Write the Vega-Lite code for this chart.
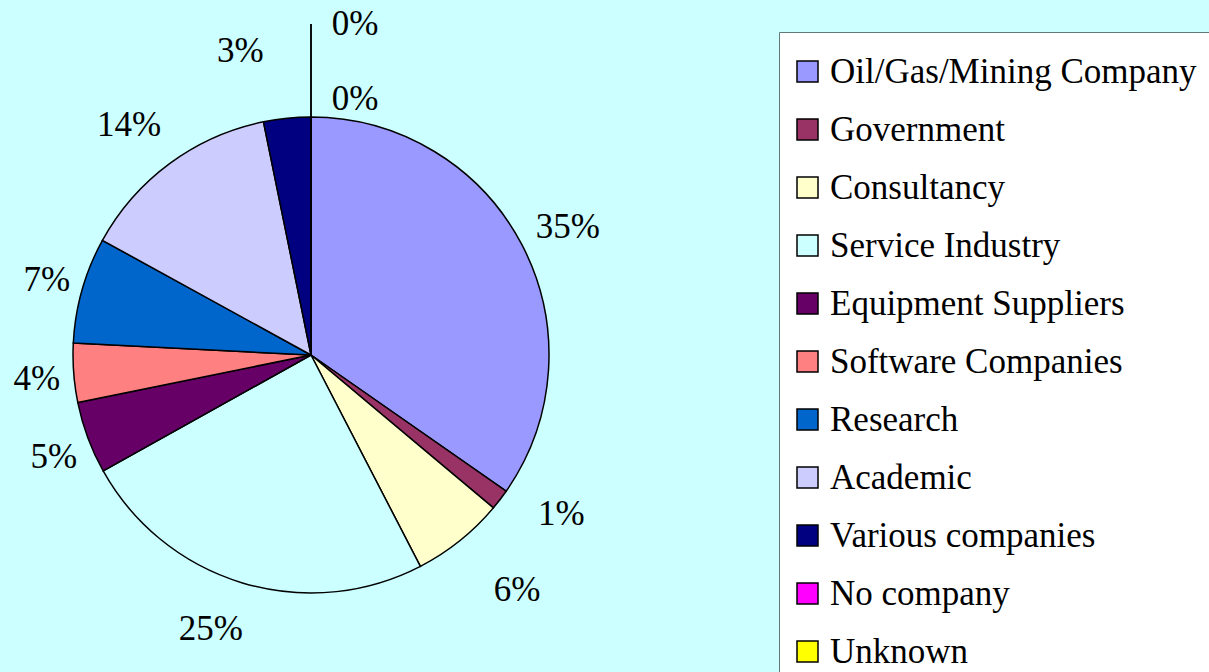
{
  "$schema": "https://vega.github.io/schema/vega-lite/v6.json",
  "width": 476,
  "height": 476,
  "autosize": {"type": "none"},
  "padding": {"left": 73, "top": 117, "right": 660, "bottom": 79},
  "background": "#CCFFFF",
  "config": {"view": {"stroke": null}, "font": "Liberation Serif"},
  "data": {
    "values": [
      {"idx": 1, "cat": "Oil/Gas/Mining Company", "value": 34.7, "label": "35%"},
      {"idx": 2, "cat": "Government", "value": 1.4, "label": "1%"},
      {"idx": 3, "cat": "Consultancy", "value": 6.3, "label": "6%"},
      {"idx": 4, "cat": "Service Industry", "value": 24.5, "label": "25%"},
      {"idx": 5, "cat": "Equipment Suppliers", "value": 4.9, "label": "5%"},
      {"idx": 6, "cat": "Software Companies", "value": 4.0, "label": "4%"},
      {"idx": 7, "cat": "Research", "value": 7.2, "label": "7%"},
      {"idx": 8, "cat": "Academic", "value": 13.8, "label": "14%"},
      {"idx": 9, "cat": "Various companies", "value": 3.2, "label": "3%"},
      {"idx": 10, "cat": "No company", "value": 0, "label": "0%"},
      {"idx": 11, "cat": "Unknown", "value": 0, "label": "0%"}
    ]
  },
  "layer": [
    {
      "mark": {"type": "arc", "radius": 238, "stroke": "black", "strokeWidth": 1.5},
      "encoding": {
        "theta": {"field": "value", "type": "quantitative", "stack": true},
        "order": {"field": "idx", "type": "quantitative"},
        "color": {
          "field": "cat",
          "type": "nominal",
          "sort": null,
          "scale": {
            "domain": ["Oil/Gas/Mining Company", "Government", "Consultancy", "Service Industry", "Equipment Suppliers", "Software Companies", "Research", "Academic", "Various companies", "No company", "Unknown"],
            "range": ["#9999FF", "#993366", "#FFFFCC", "#CCFFFF", "#660066", "#FF8080", "#0066CC", "#CCCCFF", "#000080", "#FF00FF", "#FFFF00"]
          },
          "legend": {
            "orient": "none",
            "legendX": 706,
            "legendY": -85,
            "title": null,
            "symbolType": "square",
            "symbolSize": 441,
            "symbolStrokeColor": "black",
            "symbolStrokeWidth": 1.5,
            "symbolOpacity": 1,
            "symbolOffset": -11,
            "labelFont": "Liberation Serif",
            "labelFontSize": 35,
            "labelColor": "black",
            "labelOffset": 5,
            "labelLimit": 0,
            "rowPadding": 22,
            "padding": 22,
            "strokeColor": "#5f7a7a",
            "fillColor": "white"
          }
        }
      }
    },
    {
      "mark": {"type": "arc", "radius": 331, "radius2": 238, "fillOpacity": 0, "stroke": "black", "strokeWidth": 1},
      "encoding": {
        "theta": {"field": "value", "type": "quantitative", "stack": true},
        "order": {"field": "idx", "type": "quantitative"},
        "detail": {"field": "cat"},
        "strokeOpacity": {"condition": {"test": "datum.value === 0", "value": 1}, "value": 0}
      }
    },
    {
      "mark": {"type": "text", "radius": 285, "dx": 4, "dy": 4, "fontSize": 35, "font": "Liberation Serif", "align": "center", "baseline": "middle", "color": "black"},
      "encoding": {
        "theta": {"field": "value", "type": "quantitative", "stack": true},
        "order": {"field": "idx", "type": "quantitative"},
        "detail": {"field": "cat"},
        "text": {"condition": {"test": "datum.cat === 'Oil/Gas/Mining Company'", "field": "label"}, "value": ""}
      }
    },
    {
      "mark": {"type": "text", "radius": 285, "dx": 10, "dy": 3, "fontSize": 35, "font": "Liberation Serif", "align": "center", "baseline": "middle", "color": "black"},
      "encoding": {
        "theta": {"field": "value", "type": "quantitative", "stack": true},
        "order": {"field": "idx", "type": "quantitative"},
        "detail": {"field": "cat"},
        "text": {"condition": {"test": "indexof(['Equipment Suppliers','Software Companies','Research'], datum.cat) >= 0", "field": "label"}, "value": ""}
      }
    },
    {
      "mark": {"type": "text", "radius": 285, "dx": -13, "dy": 0, "fontSize": 35, "font": "Liberation Serif", "align": "center", "baseline": "middle", "color": "black"},
      "encoding": {
        "theta": {"field": "value", "type": "quantitative", "stack": true},
        "order": {"field": "idx", "type": "quantitative"},
        "detail": {"field": "cat"},
        "text": {"condition": {"test": "datum.cat === 'Academic'", "field": "label"}, "value": ""}
      }
    },
    {
      "mark": {"type": "text", "radius": 285, "dx": 24, "dy": -14, "fontSize": 35, "font": "Liberation Serif", "align": "center", "baseline": "middle", "color": "black"},
      "encoding": {
        "theta": {"field": "value", "type": "quantitative", "stack": true},
        "order": {"field": "idx", "type": "quantitative"},
        "detail": {"field": "cat"},
        "text": {"condition": {"test": "datum.cat === 'Government'", "field": "label"}, "value": ""}
      }
    },
    {
      "mark": {"type": "text", "radius": 285, "dx": 28, "dy": 13, "fontSize": 35, "font": "Liberation Serif", "align": "center", "baseline": "middle", "color": "black"},
      "encoding": {
        "theta": {"field": "value", "type": "quantitative", "stack": true},
        "order": {"field": "idx", "type": "quantitative"},
        "detail": {"field": "cat"},
        "text": {"condition": {"test": "datum.cat === 'Consultancy'", "field": "label"}, "value": ""}
      }
    },
    {
      "mark": {"type": "text", "radius": 285, "dx": -18, "dy": 1, "fontSize": 35, "font": "Liberation Serif", "align": "center", "baseline": "middle", "color": "black"},
      "encoding": {
        "theta": {"field": "value", "type": "quantitative", "stack": true},
        "order": {"field": "idx", "type": "quantitative"},
        "detail": {"field": "cat"},
        "text": {"condition": {"test": "datum.cat === 'Service Industry'", "field": "label"}, "value": ""}
      }
    },
    {
      "mark": {"type": "text", "radius": 285, "dx": -42, "dy": -20, "fontSize": 35, "font": "Liberation Serif", "align": "center", "baseline": "middle", "color": "black"},
      "encoding": {
        "theta": {"field": "value", "type": "quantitative", "stack": true},
        "order": {"field": "idx", "type": "quantitative"},
        "detail": {"field": "cat"},
        "text": {"condition": {"test": "datum.cat === 'Various companies'", "field": "label"}, "value": ""}
      }
    },
    {
      "mark": {"type": "text", "radius": 285, "dx": 44, "dy": 29, "fontSize": 35, "font": "Liberation Serif", "align": "center", "baseline": "middle", "color": "black"},
      "encoding": {
        "theta": {"field": "value", "type": "quantitative", "stack": true},
        "order": {"field": "idx", "type": "quantitative"},
        "detail": {"field": "cat"},
        "text": {"condition": {"test": "datum.cat === 'No company'", "field": "label"}, "value": ""}
      }
    },
    {
      "mark": {"type": "text", "radius": 285, "dx": 44, "dy": -46, "fontSize": 35, "font": "Liberation Serif", "align": "center", "baseline": "middle", "color": "black"},
      "encoding": {
        "theta": {"field": "value", "type": "quantitative", "stack": true},
        "order": {"field": "idx", "type": "quantitative"},
        "detail": {"field": "cat"},
        "text": {"condition": {"test": "datum.cat === 'Unknown'", "field": "label"}, "value": ""}
      }
    }
  ]
}
